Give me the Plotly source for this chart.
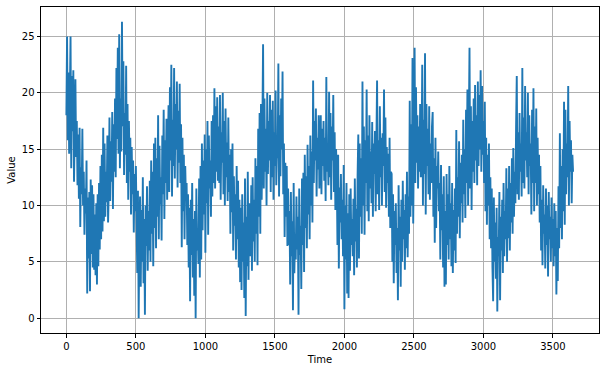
import numpy as np
import plotly.graph_objects as go

y1981 = [18.0, 25.0, 15.8, 21.8, 14.6, 20.7, 25.0, 13.3, 21.5, 16.6, 22.0, 12.1, 18.3,
         21.2, 14.3, 17.5, 11.8, 16.3, 10.6, 16.9, 8.1, 13.4, 11.0, 16.8, 10.0,
         13.0, 7.4, 11.5, 9.3, 14.0, 2.2, 10.7, 5.3, 11.2, 2.4, 12.3, 5.7, 11.8, 4.5, 11.0, 4.3, 9.2, 3.8, 10.2,
         3.0, 11.0, 4.6, 12.0, 6.1, 13.5, 7.0, 14.5, 7.7, 16.9, 8.6, 15.5, 9.0, 13.0, 10.3, 16.2, 8.5,
         11.4, 17.8, 10.4, 15.7, 12.1, 18.3, 9.7, 17.2, 13.0, 19.5, 12.5, 22.2]
y1982 = [15.9, 24.0, 14.6, 25.2, 13.3, 19.5, 14.8, 26.3, 17.0, 22.8, 12.7, 18.2,
         14.5, 22.4, 12.0, 19.0, 10.5, 17.5, 13.0, 16.0, 9.2, 15.2, 11.0, 14.0, 7.6, 12.8, 9.5, 13.5,
         8.2, 4.0, 11.3, 0.0, 7.5, 10.8, 2.8, 9.6, 5.0, 12.5, 3.1, 8.8, 0.3, 10.0, 6.4, 11.7, 4.2, 9.5,
         6.0, 12.2, 5.0, 14.0, 7.5, 13.0, 4.6, 15.5, 8.0, 16.0, 6.2, 14.2, 9.0, 18.0, 7.0,
         15.3, 10.1, 12.5, 6.9, 16.2, 11.0, 18.5, 8.8, 15.8, 12.0, 17.7, 10.5]
y1983 = [13.4, 18.9, 11.2, 20.5, 14.0, 22.5, 10.8, 17.6, 13.5, 22.2, 12.4, 19.0, 15.0, 21.0, 11.6, 18.4, 13.8, 20.8, 12.0,
         17.2, 6.3, 16.0, 9.5, 14.5, 7.0, 13.5, 10.5, 12.0, 6.5,
         11.0, 4.5, 9.8, 1.5, 10.5, 5.6, 12.0, 3.6, 8.8, 2.0, 9.5, 0.0, 11.5, 6.0, 8.0, 4.8,
         12.4, 3.6, 13.5, 5.2, 15.5, 7.8, 14.0, 9.2, 16.3, 5.8, 15.0, 10.2, 17.5, 7.4, 16.2, 11.5, 14.0, 9.0, 17.5, 10.8, 18.0, 12.0,
         20.4, 11.5, 18.8, 13.0, 19.6, 12.2]
y1984 = [17.0, 12.0, 19.8, 10.5, 16.5, 13.8, 20.0, 11.0, 17.5, 10.0, 18.6, 12.5, 15.6, 10.4, 17.8, 11.2,
         14.5, 7.5, 15.0, 9.4, 15.5, 6.0, 12.6, 8.2, 11.0, 5.2, 13.5, 7.0, 12.2, 4.5, 10.5, 3.2,
         9.8, 2.5, 11.0, 5.0, 8.5, 1.8, 12.4, 0.2, 9.0, 4.6, 13.0, 3.4, 10.2, 6.0,
         5.5, 11.8, 4.2, 12.5, 6.8, 10.5, 5.0, 14.2, 7.5,
         13.5, 4.7, 16.8, 9.0, 18.2, 7.5, 19.0, 10.5, 17.0,
         24.3, 11.5, 19.5, 13.0, 16.8, 10.0, 20.0, 12.8, 17.5]
y1985 = [14.0, 19.8, 11.2, 18.5, 12.5, 19.3, 10.5, 16.5, 13.5, 20.2, 11.8, 15.0, 14.2, 22.6, 10.8, 18.0, 12.6, 19.5, 15.0, 21.9, 11.0,
         15.5, 7.2, 13.8, 9.0, 13.5, 6.4, 11.5, 6.5,
         9.5, 3.0, 11.2, 5.5, 8.6, 0.7, 12.0, 4.0, 7.5, 5.2, 10.8, 6.1, 9.0, 0.3, 11.5, 5.6, 8.2, 2.6, 12.4, 6.5,
         12.9, 4.1, 14.5, 8.0, 12.6, 6.2, 15.4, 9.2, 13.5, 7.0, 16.2, 10.0, 14.8, 8.5,
         21.1, 12.0, 17.5, 14.0, 18.6, 10.8, 16.0, 13.2, 18.0, 11.5]
y1986 = [14.5, 18.0, 11.0, 16.8, 13.5, 17.5, 12.2, 16.0, 10.4, 21.4, 13.0, 15.5, 11.8, 20.1, 12.5, 18.2, 10.5, 17.0, 14.0, 19.8, 11.2, 16.5, 9.6, 15.0,
         13.2, 6.5, 14.5, 4.4, 11.6, 8.5, 12.8, 7.0, 10.5, 5.5, 13.6, 0.8,
         10.0, 5.2, 12.0, 2.2, 9.3, 1.8, 11.0, 4.2, 11.5, 6.5, 8.8, 5.5, 10.6, 3.8, 12.4, 6.8, 9.7, 4.5, 12.7,
         16.3, 5.3, 15.5, 9.0, 14.2, 7.5, 21.0, 10.0, 17.0, 7.4, 15.8, 12.0, 20.3, 9.5, 16.2, 8.6, 18.0, 11.5]
y1987 = [14.8, 10.2, 17.4, 9.0, 15.5, 12.8, 16.6, 9.5, 14.0, 21.1, 11.0, 15.8, 9.6, 18.8, 12.5,
         16.0, 10.0, 16.4, 13.5, 20.3, 11.2, 17.8, 9.8, 15.2, 12.0, 14.6, 9.0, 16.0, 8.0, 13.0,
         12.8, 5.0, 11.0, 3.1, 9.5, 6.5, 10.2, 4.0, 8.0, 1.6, 11.8, 6.0, 9.0, 2.8, 10.5, 5.0,
         12.2, 7.0, 9.6, 4.3, 11.0, 6.2, 13.0, 5.4, 10.8, 7.5, 19.3,
         9.0, 17.2, 10.0, 23.1, 8.4, 16.5, 24.0, 12.0, 20.5, 13.8, 18.0, 11.5, 17.0, 13.0, 19.0, 12.5]
y1988 = [14.0, 22.5, 10.0, 17.6, 12.8, 23.5, 9.2, 19.0, 13.5, 16.8,
         11.0, 18.8, 10.5, 15.5, 12.0, 17.0, 18.3, 9.0, 14.2, 6.7, 16.0, 8.0,
         13.5, 11.5, 14.8, 9.5, 12.0, 5.2, 13.6, 7.8, 11.0, 4.5, 12.6, 2.8,
         9.5, 3.0, 12.8, 6.5, 11.0, 5.2, 13.5, 7.0, 10.2, 4.6, 12.0, 4.0, 9.6, 6.0, 11.5, 4.9,
         16.7, 7.5, 12.5, 9.0, 15.7, 7.1, 13.8, 10.2, 14.5, 8.5, 17.6, 11.0, 15.0, 8.9, 18.5, 12.0, 20.3, 10.0, 16.0,
         24.0, 11.5, 18.8, 9.6]
y1989 = [17.5, 13.0, 19.5, 12.0, 20.7, 14.0, 18.0, 11.8, 21.0, 13.5, 19.8, 15.0, 22.0, 13.0, 20.6, 14.5, 17.5,
         12.0, 19.2, 9.5, 16.0, 8.3, 14.5, 10.0, 15.5, 7.0, 12.5, 6.2, 11.5,
         4.5, 1.5, 10.7, 5.0, 8.5, 3.5, 9.8, 0.6, 7.2, 5.5, 11.2, 1.6, 9.0, 6.0, 10.5, 4.0, 12.0, 5.5, 9.5, 7.0,
         13.3, 5.0, 11.5, 7.1, 13.5, 6.0, 12.0, 8.5, 14.2, 7.5, 15.1, 9.0, 13.0, 10.2, 17.0,
         21.5, 11.0, 16.5, 10.5, 18.2, 13.0, 15.5, 10.8, 22.2]
y1990 = [12.0, 17.8, 11.5, 20.6, 14.0, 16.5, 12.5, 20.0, 11.0, 18.0, 13.5, 15.5, 9.2, 18.5, 12.0, 20.4, 9.5, 17.0,
         12.0, 18.6, 10.0, 16.0, 11.0, 14.5, 8.5,
         13.5, 6.0, 10.5, 4.7, 11.8, 7.5, 9.2, 4.4, 11.5, 6.5, 10.0, 3.7, 11.2, 7.0, 9.0, 5.0,
         10.7, 6.2, 8.8, 4.6, 10.2, 5.5, 9.5, 2.1, 8.0,
         3.3, 11.7, 6.2, 16.4, 8.0, 13.5, 7.0, 15.0, 9.5, 19.2, 8.3, 18.5, 11.0, 15.5, 12.5,
         20.6, 10.0, 17.5, 13.0, 15.8, 10.2, 14.5, 13.0]

values = y1981 + y1982 + y1983 + y1984 + y1985 + y1986 + y1987 + y1988 + y1989 + y1990
step = 5
time = np.arange(len(values)) * step

x_ticks = [0, 500, 1000, 1500, 2000, 2500, 3000, 3500]
y_ticks = [0, 5, 10, 15, 20, 25]

fig = go.Figure()
fig.add_trace(go.Scatter(x=time, y=values, mode="lines",
                         line=dict(color="#1f77b4", width=1.9), hoverinfo="skip"))

axis_common = dict(showgrid=True, gridcolor="#b0b0b0", gridwidth=0.8, zeroline=False,
                   showline=True, linecolor="black", linewidth=1, mirror=True,
                   ticks="outside", ticklen=3.5, tickwidth=0.8, tickcolor="black",
                   tickfont=dict(family="DejaVu Sans", size=10, color="black"))

fig.update_layout(
    width=606, height=371,
    margin=dict(l=41, r=7, t=7, b=38),
    paper_bgcolor="white", plot_bgcolor="white",
    showlegend=False,
    font=dict(family="DejaVu Sans", size=10, color="black"),
    xaxis=dict(range=[-182.5, 3831.5], tickvals=x_ticks,
               title=dict(text="Time", font=dict(family="DejaVu Sans", size=10, color="black"), standoff=5),
               **axis_common),
    yaxis=dict(range=[-1.315, 27.615], tickvals=y_ticks,
               title=dict(text="Value", font=dict(family="DejaVu Sans", size=10, color="black"), standoff=4),
               **axis_common),
)

fig.write_html("out.html")
